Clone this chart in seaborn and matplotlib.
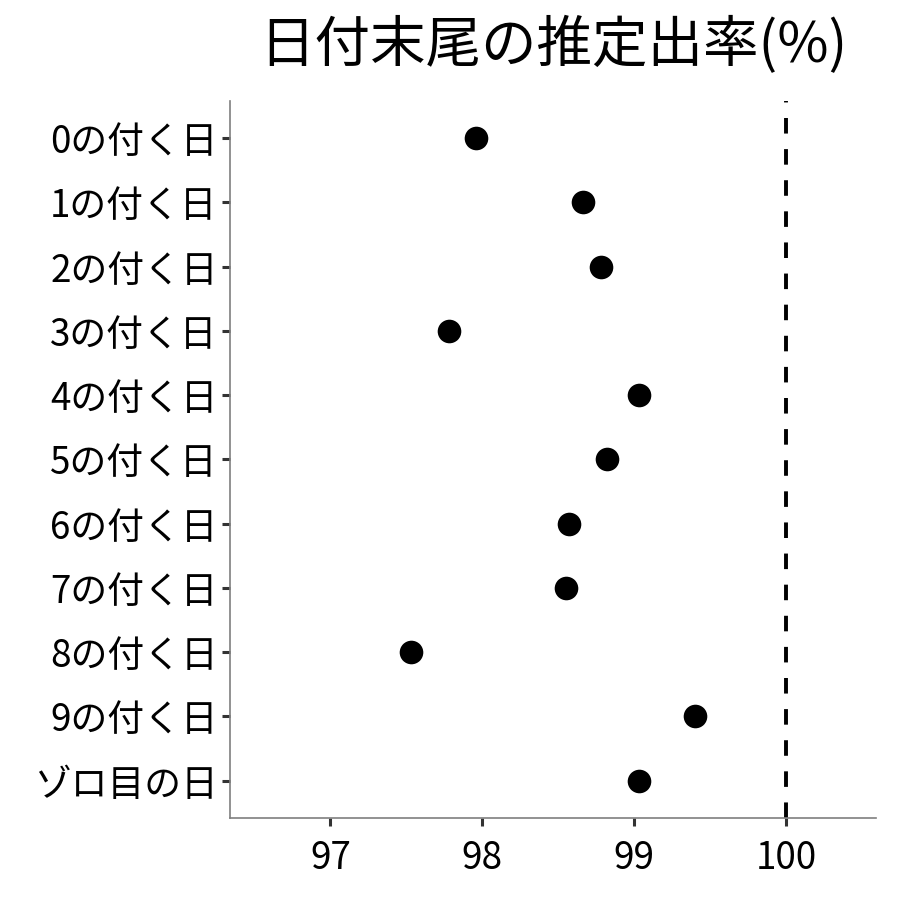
import pandas as pd
import numpy as np
import matplotlib
matplotlib.use('Agg')
import matplotlib.pyplot as plt
import seaborn as sns

categories = ['0の付く日', '1の付く日', '2の付く日', '3の付く日', '4の付く日',
              '5の付く日', '6の付く日', '7の付く日', '8の付く日', '9の付く日', 'ゾロ目の日']
rates = [97.96, 98.66, 98.78, 97.78, 99.03, 98.82, 98.57, 98.55, 97.53, 99.40, 99.03]
ref_line = 100
xticks = [97, 98, 99, 100]

df = pd.DataFrame({'day': categories, 'rate': rates})

sns.set_theme(style='white')
plt.rcParams['font.family'] = ['Noto Sans CJK JP', 'DejaVu Sans']

fig = plt.figure(figsize=(9, 9), dpi=100)
ax = fig.add_axes([0.2556, 0.0911, 0.7178, 0.7967])

sns.stripplot(data=df, x='rate', y='day', order=categories, jitter=False,
              size=17, color='black', linewidth=0, ax=ax)
ax.axvline(ref_line, color='black', linestyle=(0, (4, 4)), linewidth=2.8)

ax.set_xlim(96.34, 100.59)
ax.set_ylim(len(categories) - 0.42, -0.58)
ax.set_xticks(xticks)
ax.set_xticklabels([str(t) for t in xticks])
ax.set_xlabel('')
ax.set_ylabel('')
ax.tick_params(axis='both', which='both', length=6, width=2.2, color='#333333',
               labelsize=26.5, labelcolor='black', bottom=True, left=True)
ax.tick_params(axis='x', pad=9)
ax.tick_params(axis='y', pad=3)

for side in ['top', 'right']:
    ax.spines[side].set_visible(False)
for side in ['left', 'bottom']:
    ax.spines[side].set_color('#7f7f7f')
    ax.spines[side].set_linewidth(1.2)

ax.set_title('日付末尾の推定出率(%)', fontsize=40, color='black', pad=28)

plt.savefig('out.png', dpi=100)
plt.close()
